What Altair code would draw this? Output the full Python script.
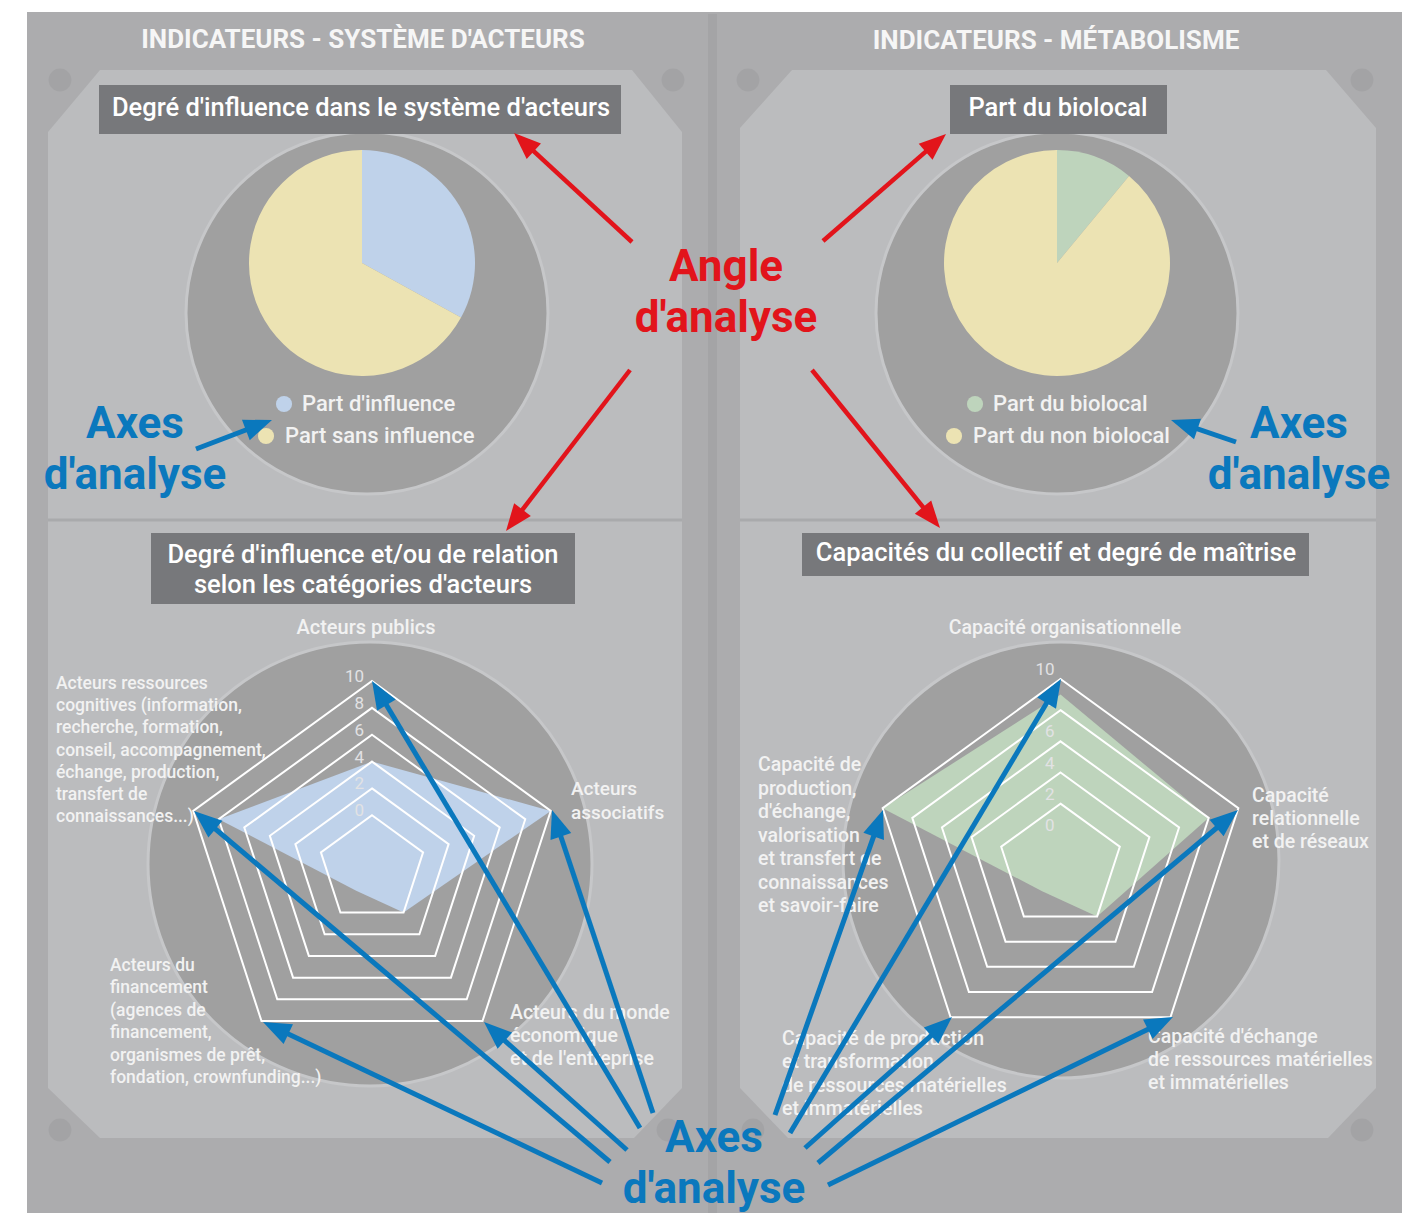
import math
import altair as alt
import pandas as pd

# ---------------- data ----------------
header_titles = ["INDICATEURS - SYSTÈME D'ACTEURS", "INDICATEURS - MÉTABOLISME"]
box_titles = [
    ["Degré d'influence dans le système d'acteurs"],
    ["Part du biolocal"],
    ["Degré d'influence et/ou de relation", "selon les catégories d'acteurs"],
    ["Capacités du collectif et degré de maîtrise"],
]

pie1_labels = ["Part d'influence", "Part sans influence"]
pie1_values = [33, 67]
pie1_colors = ["#bfd2ea", "#ece3b3"]

pie2_labels = ["Part du biolocal", "Part du non biolocal"]
pie2_values = [11, 89]
pie2_colors = ["#bed4bc", "#ece3b3"]

radar1_axes = [
    ["Acteurs publics"],
    ["Acteurs", "associatifs"],
    ["Acteurs du monde", "économique", "et de l'entreprise"],
    ["Acteurs du", "financement", "(agences de", "financement,",
     "organismes de prêt,", "fondation, crownfunding...)"],
    ["Acteurs ressources", "cognitives (information,", "recherche, formation,",
     "conseil, accompagnement,", "échange, production,", "transfert de",
     "connaissances...)"],
]
radar1_values = [4, 10, 0, -2, 8]
radar1_rings = [0, 2, 4, 6, 8, 10]
radar1_ticks = [0, 2, 4, 6, 8, 10]
radar1_domain = [-4, 10]
radar1_color = "#bfd2ea"

radar2_axes = [
    ["Capacité organisationnelle"],
    ["Capacité", "relationnelle", "et de réseaux"],
    ["Capacité d'échange", "de ressources matérielles", "et immatérielles"],
    ["Capacité de production", "et transformation",
     "de ressources matérielles", "et immatérielles"],
    ["Capacité de", "production,", "d'échange,", "valorisation",
     "et transfert de", "connaissances", "et savoir-faire"],
]
radar2_values = [9, 8, 2, 0, 10]
radar2_rings = [2, 4, 6, 8, 10]
radar2_ticks = [0, 2, 4, 6, 8, 10]
radar2_domain = [-2, 10]
radar2_color = "#bed4bc"

angle_text = ["Angle", "d'analyse"]
axes_text = ["Axes", "d'analyse"]

# ---------------- layout / styles ----------------
FONT = "Roboto"
W, H = 1404, 1205
OX, OY = 8, 8
FRAME = "#acacae"
PANEL = "#bbbcbe"
DISC = "#a0a0a0"
DISC_EDGE = "#c6c7c9"
BOX = "#77787b"
RED = "#e2141b"
BLUE = "#0a78bd"
LABEL = "#f2f2f2"
TICK = "#e2e2e4"

xs = alt.Scale(domain=[OX, OX + W], nice=False, zero=False)
ys = alt.Scale(domain=[OY + H, OY], nice=False, zero=False)


def X(f, **kw):
    return alt.X(f, type="quantitative", scale=xs, axis=None, **kw)


def Y(f, **kw):
    return alt.Y(f, type="quantitative", scale=ys, axis=None, **kw)


layers = []

# outer frame and divider
frame_df = pd.DataFrame([
    {"x": 27, "x2": 1402, "y": 12, "y2": OY + H, "c": FRAME},
    {"x": 708, "x2": 717, "y": 14, "y2": OY + H, "c": "#a4a4a6"},
])
layers.append(alt.Chart(frame_df).mark_rect().encode(
    x=X("x"), x2="x2", y=Y("y"), y2="y2", color=alt.Color("c:N", scale=None)))

# bevelled panels
panel_polys = [
    [(100, 70), (632, 70), (682, 132), (682, 1088), (634, 1138), (100, 1138), (48, 1088), (48, 132)],
    [(792, 70), (1326, 70), (1376, 128), (1376, 1088), (1328, 1138), (788, 1138), (740, 1088), (740, 128)],
]
prow = []
for pid, poly in enumerate(panel_polys):
    for i, (px, py) in enumerate(poly):
        prow.append({"pid": pid, "i": i, "x": px, "y": py})
layers.append(alt.Chart(pd.DataFrame(prow)).mark_line(
    interpolate="linear-closed", filled=True, color=PANEL).encode(
    x=X("x"), y=Y("y"), detail="pid:N", order="i:Q"))

# horizontal separators
sep_df = pd.DataFrame([{"x": 48, "x2": 682, "y": 520}, {"x": 740, "x2": 1376, "y": 520}])
layers.append(alt.Chart(sep_df).mark_rule(color="#a9aaac", strokeWidth=3).encode(
    x=X("x"), x2="x2", y=Y("y")))

# screws
screw_df = pd.DataFrame([{"x": a, "y": b} for a, b in
                         [(60, 80), (673, 80), (748, 80), (1362, 80),
                          (60, 1130), (668, 1130), (753, 1130), (1362, 1130)]])
layers.append(alt.Chart(screw_df).mark_circle(size=520, color="#a3a3a5", opacity=1).encode(
    x=X("x"), y=Y("y")))

# big gray discs (pies + radars)
disc_df = pd.DataFrame([
    {"x": 367, "y": 313, "r": 181}, {"x": 1057, "y": 313, "r": 181},
    {"x": 370, "y": 864, "r": 222}, {"x": 1061, "y": 860, "r": 218},
])
disc_df["s"] = (2 * disc_df["r"]) ** 2
layers.append(alt.Chart(disc_df).mark_circle(color=DISC, opacity=1, stroke=DISC_EDGE, strokeWidth=3).encode(
    x=X("x"), y=Y("y"), size=alt.Size("s:Q", scale=None)))

# headers
hdr_pos = [(363, 40), (1056, 41)]
hdr_df = pd.DataFrame([{"x": p[0], "y": p[1], "t": t} for p, t in zip(hdr_pos, header_titles)])
layers.append(alt.Chart(hdr_df).mark_text(font=FONT, fontSize=26, fontWeight="bold", color="#f6f6f6",
                                          baseline="middle", align="center").encode(
    x=X("x"), y=Y("y"), text="t:N"))

# title boxes
box_rects = [(99, 621, 85, 134), (950, 1167, 85, 134), (151, 575, 533, 604), (802, 1309, 533, 576)]
box_df = pd.DataFrame([{"x": a, "x2": b, "y": c, "y2": d} for a, b, c, d in box_rects])
layers.append(alt.Chart(box_df).mark_rect(color=BOX).encode(x=X("x"), x2="x2", y=Y("y"), y2="y2"))
box_text_pos = [(361, [108]), (1058, [108]), (363, [555, 585]), (1056, [553])]
brow = []
for (bx, bys), lines in zip(box_text_pos, box_titles):
    for by, ln in zip(bys, lines):
        brow.append({"x": bx, "y": by, "t": ln})
layers.append(alt.Chart(pd.DataFrame(brow)).mark_text(font=FONT, fontSize=25.5, fontWeight=500,
                                                      color="#ffffff",
                                                      baseline="middle", align="center").encode(
    x=X("x"), y=Y("y"), text="t:N"))

# pies
pie_layout = [(362, 263, 113), (1057, 263, 113)]
arow = []
for (cx, cy, r), vals, cols in zip(pie_layout, [pie1_values, pie2_values], [pie1_colors, pie2_colors]):
    tot = float(sum(vals))
    acc = 0.0
    for v, c in zip(vals, cols):
        t0 = acc / tot * 2 * math.pi
        acc += v
        t1 = acc / tot * 2 * math.pi
        arow.append({"x": cx, "y": cy, "t0": t0, "t1": t1, "c": c})
layers.append(alt.Chart(pd.DataFrame(arow)).mark_arc(radius=113).encode(
    x=X("x", stack=None), y=Y("y", stack=None),
    theta=alt.Theta("t0:Q", scale=None), theta2="t1:Q",
    color=alt.Color("c:N", scale=None)))

# pie legends
leg_layout = [[(284, 404, 302), (266, 436, 285)], [(975, 404, 993), (954, 436, 973)]]
drow, trow = [], []
for lay, labs, cols in zip(leg_layout, [pie1_labels, pie2_labels], [pie1_colors, pie2_colors]):
    for (dx, dy, tx), lab, c in zip(lay, labs, cols):
        drow.append({"x": dx, "y": dy, "c": c})
        trow.append({"x": tx, "y": dy, "t": lab})
layers.append(alt.Chart(pd.DataFrame(drow)).mark_circle(size=260, opacity=1).encode(
    x=X("x"), y=Y("y"), color=alt.Color("c:N", scale=None)))
layers.append(alt.Chart(pd.DataFrame(trow)).mark_text(font=FONT, fontSize=22, fontWeight=500, color=LABEL,
                                                      baseline="middle", align="left").encode(
    x=X("x"), y=Y("y"), text="t:N"))

# radars
radar_layout = [
    dict(cx=372, cy=869, R=188, tdx=-8, tdy=-4,
         lab=[(366, 628, 22.4), (571, 789, 23.5), (510, 1013, 23), (110, 966, 22.4), (56, 684, 22.2)],
         fs=[20, 19, 19.5, 17.5, 17.5]),
    dict(cx=1060.5, cy=866, R=187, tdx=-6, tdy=-9,
         lab=[(1065, 628, 23), (1252, 796, 23), (1148, 1037, 23.2), (782, 1039, 23.3), (758, 765, 23.5)],
         fs=[19.5, 19.5, 19.5, 19.5, 19.5]),
]
radars = [
    (radar1_axes, radar1_values, radar1_rings, radar1_ticks, radar1_domain, radar1_color),
    (radar2_axes, radar2_values, radar2_rings, radar2_ticks, radar2_domain, radar2_color),
]


def rxy(L, dom, k, v):
    r = (v - dom[0]) / (dom[1] - dom[0]) * L["R"]
    a = math.radians(72 * k)
    return L["cx"] + r * math.sin(a), L["cy"] - r * math.cos(a)


fill_rows, ring_rows, tick_rows, lab_c, lab_l = [], [], [], [], []
for rid, (L, (axes, vals, rings, ticks, dom, col)) in enumerate(zip(radar_layout, radars)):
    for k, v in enumerate(vals):
        px, py = rxy(L, dom, k, v)
        fill_rows.append({"pid": rid, "i": k, "x": px, "y": py, "c": col})
    for ring in rings:
        for k in range(5):
            px, py = rxy(L, dom, k, ring)
            ring_rows.append({"pid": f"{rid}-{ring}", "i": k, "x": px, "y": py})
    for t in ticks:
        px, py = rxy(L, dom, 0, t)
        tick_rows.append({"x": px + L["tdx"], "y": py + L["tdy"], "t": str(t)})
    for k, (lines, (lx, ly, lh), fs) in enumerate(zip(axes, L["lab"], L["fs"])):
        for j, ln in enumerate(lines):
            row = {"x": lx, "y": ly + j * lh, "t": ln, "fs": fs}
            (lab_c if k == 0 else lab_l).append(row)

layers.append(alt.Chart(pd.DataFrame(fill_rows)).mark_line(
    interpolate="linear-closed", filled=True, opacity=1).encode(
    x=X("x"), y=Y("y"), detail="pid:N", order="i:Q", color=alt.Color("c:N", scale=None)))
layers.append(alt.Chart(pd.DataFrame(ring_rows)).mark_line(
    interpolate="linear-closed", color="#ffffff", strokeWidth=2).encode(
    x=X("x"), y=Y("y"), detail="pid:N", order="i:Q"))
layers.append(alt.Chart(pd.DataFrame(tick_rows)).mark_text(font=FONT, fontSize=17, color=TICK,
                                                           baseline="middle", align="right").encode(
    x=X("x"), y=Y("y"), text="t:N"))
layers.append(alt.Chart(pd.DataFrame(lab_c)).mark_text(font=FONT, fontWeight=500, color=LABEL,
                                                       baseline="middle", align="center").encode(
    x=X("x"), y=Y("y"), text="t:N", size=alt.Size("fs:Q", scale=None)))
layers.append(alt.Chart(pd.DataFrame(lab_l)).mark_text(font=FONT, fontWeight=500, color=LABEL,
                                                       baseline="middle", align="left").encode(
    x=X("x"), y=Y("y"), text="t:N", size=alt.Size("fs:Q", scale=None)))

# arrows
red_arrows = [((632, 242), (514, 133)), ((823, 241), (946, 134)),
              ((630, 370), (506, 531)), ((812, 370), (940, 528))]
blue_arrows = [((196, 449), (272, 420)), ((1236, 442), (1171, 420)),
               ((653, 1113), (552, 810)), ((640, 1128), (372, 681)), ((627, 1150), (484, 1022)),
               ((610, 1162), (194, 811)), ((602, 1183), (263, 1022)),
               ((775, 1115), (883, 810)), ((790, 1133), (1061, 679)), ((805, 1148), (952, 1017)),
               ((818, 1163), (1238, 810)), ((828, 1185), (1173, 1017))]
shaft_rows, head_rows = [], []
for arrows, col, sw, hl in [(red_arrows, RED, 4.5, 27), (blue_arrows, BLUE, 5, 28)]:
    for (x0, y0), (x1, y1) in arrows:
        dx, dy = x1 - x0, y1 - y0
        d = math.hypot(dx, dy)
        ux, uy = dx / d, dy / d
        hx, hy = x1 - ux * hl / 2, y1 - uy * hl / 2
        ang = math.degrees(math.atan2(ux, -uy)) % 360
        shaft_rows.append({"x": x0, "y": y0, "x2": hx, "y2": hy, "c": col, "w": sw})
        head_rows.append({"x": hx, "y": hy, "a": ang, "c": col, "s": hl * hl})

# big annotation texts
big_rows = []
for (tx, ty0), lines, col in [((726, 268), angle_text, RED), ((135, 425), axes_text, BLUE),
                              ((1299, 425), axes_text, BLUE), ((714, 1139), axes_text, BLUE)]:
    for j, ln in enumerate(lines):
        big_rows.append({"x": tx, "y": ty0 + j * 51, "t": ln, "c": col})

layers.append(alt.Chart(pd.DataFrame(shaft_rows)).mark_rule(strokeCap="butt").encode(
    x=X("x"), y=Y("y"), x2="x2", y2="y2", color=alt.Color("c:N", scale=None),
    strokeWidth=alt.StrokeWidth("w:Q", scale=None)))
layers.append(alt.Chart(pd.DataFrame(head_rows)).mark_point(
    shape="M0,-1L0.78,1L-0.78,1Z", filled=True, opacity=1).encode(
    x=X("x"), y=Y("y"), angle=alt.Angle("a:Q", scale=None), color=alt.Color("c:N", scale=None),
    size=alt.Size("s:Q", scale=None)))
layers.append(alt.Chart(pd.DataFrame(big_rows)).mark_text(font=FONT, fontSize=44, fontWeight="bold",
                                                          baseline="middle", align="center").encode(
    x=X("x"), y=Y("y"), text="t:N", color=alt.Color("c:N", scale=None)))

chart = alt.layer(*layers).properties(
    width=W, height=H, padding=0, autosize=alt.AutoSizeParams(type="none"), background="white"
).configure_view(strokeWidth=0)

chart.save("out.html", embed_options={"renderer": "svg", "actions": False})
